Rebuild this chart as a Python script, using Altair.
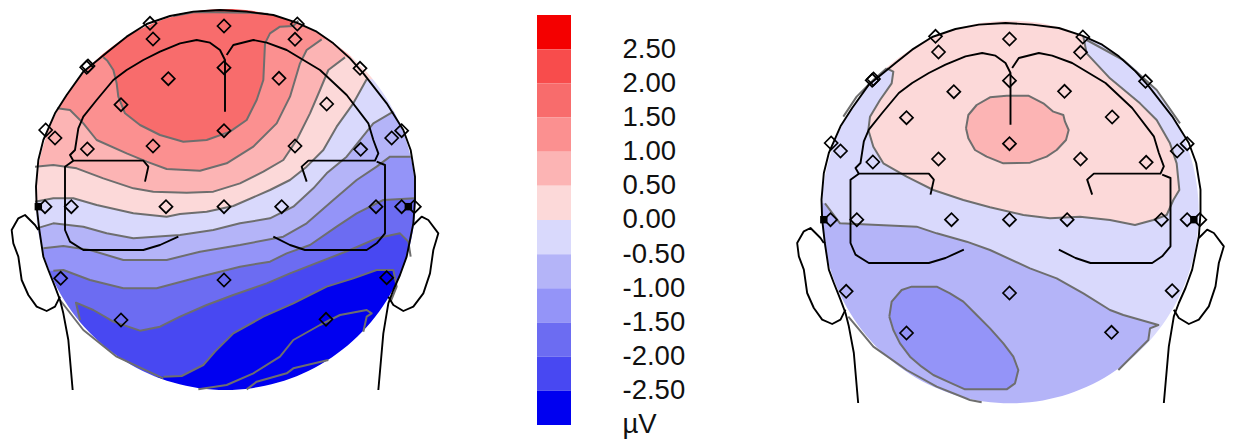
import math
import altair as alt

# ---------- colour scale ----------
LEVEL_LOW = [2.5, 2.0, 1.5, 1.0, 0.5, 0.0, -0.5, -1.0, -1.5, -2.0, -2.5, -3.0]
LEVEL_COLORS = ["#f40000", "#f84c4c", "#f86c6c", "#fb9090", "#fcb4b4", "#fcd9d9",
                "#d9d9fc", "#b4b4f8", "#9494f8", "#6c6cf2", "#4848f2", "#0000f0"]
TICKS = [2.5, 2.0, 1.5, 1.0, 0.5, 0.0, -0.5, -1.0, -1.5, -2.0, -2.5, -3.0]

# ---------- left map: contours, read at 3x from the picture ----------
L_SLIVER = [(585, 20), (590, 36), (750, 38), (805, 42), (815, 20)]
L_C15 = [(310,172),(322,182),(340,210),(350,250),(355,290),(375,340),(420,375),(480,405),(550,425),(620,420),(690,395),(740,360),(770,300),(790,240),(795,130),(810,100),(840,80),(880,78),(895,62)]
L_C10 = [(172,325),(210,330),(250,370),(290,420),(380,460),(440,485),(500,507),(600,512),(680,490),(760,440),(830,370),(870,290),(900,190),(920,150),(965,118)]
L_C05 = [(105,500),(160,495),(230,505),(310,535),(400,565),(460,575),(560,578),(640,575),(720,550),(790,515),(850,480),(890,420),(930,340),(960,270),(985,210),(1035,172)]
L_C00 = [(105,605),(160,595),(220,595),(290,615),(400,640),(500,650),(540,642),(620,635),(700,618),(810,570),(870,540),(920,500),(970,450),(1010,380),(1060,310),(1100,238)]
L_M05 = [(110,685),(160,670),(250,680),(320,700),(400,715),(540,705),(640,690),(720,670),(810,655),(880,620),(940,565),(980,520),(1040,470),(1120,370),(1180,335)]
L_M10 = [(130,745),(190,738),(270,750),(370,780),(500,780),(600,755),(720,735),(850,710),(920,670),(1000,600),(1070,540),(1130,500),(1170,470),(1232,470)]
L_M15 = [(160,812),(190,810),(270,840),(370,865),(470,865),(600,830),(720,800),(810,785),(860,760),(930,735),(1010,680),(1070,640),(1150,600),(1245,595)]
L_M20 = [(240,960),(228,908),(280,930),(340,965),(420,992),(480,980),(540,950),(620,915),(700,885),(800,850),(870,820),(1050,750),(1130,715),(1200,700),(1225,725),(1232,770)]
L_M25 = [(490,1130),(545,1128),(610,1095),(645,1055),(700,1000),(790,950),(880,910),(980,860),(1060,835),(1130,810),(1180,810),(1190,860),(1172,905)]
L_M30A = [(595,1168),(680,1155),(760,1120),(840,1070),(880,1020),(960,975),(1020,945),(1100,930),(1115,940),(1100,950),(1090,995)]
L_M30B = [(740,1168),(770,1145),(860,1120),(880,1105),(985,1080)]
L_RIM = [(180,900),(250,990),(350,1070),(490,1135)]
L_TOP = [(520,48),(585,36),(750,38),(805,42)]

# ---------- right map: contours, read at 3x (x measured from 790) ----------
R_C00 = [(290,205),(310,215),(305,250),(270,300),(240,350),(235,390),(250,440),(280,490),(350,530),(430,570),(520,600),(600,622),(700,645),(780,655),(870,650),(960,660),(1035,675),(1090,660),(1130,645),(1150,600),(1168,570),(1160,490),(1140,430),(1100,360),(1050,310),(960,235),(890,160),(880,110)]
R_C00_OUT = [(1000,60),(660,0),(320,60),(250,150)]
R_C05 = [(528,385),(535,345),(560,315),(600,292),(650,287),(715,287),(760,310),(790,335),(820,345),(825,365),(836,390),(828,420),(800,450),(770,470),(720,488),(640,490),(590,470),(555,450),(535,415),(528,385)]
R_M05 = [(105,610),(150,670),(380,680),(440,700),(530,725),(600,750),(720,805),(800,835),(880,880),(960,930),(1000,945),(1105,975),(1080,985),(1075,1020),(1030,1065),(985,1110)]
R_M05_OUT = [(1000,1260),(600,1300),(200,1100),(60,800),(60,610)]
R_M10 = [(298,950),(305,905),(335,870),(365,860),(440,860),(480,880),(520,905),(560,945),(600,985),(640,1030),(670,1070),(685,1110),(675,1150),(650,1168),(525,1168),(480,1148),(430,1125),(395,1100),(360,1070),(330,1030),(310,990),(298,950)]
R_RIM_A = [(175,950),(250,1040),(350,1110),(440,1160),(540,1200),(575,1207)]
R_RIM_B = [(160,350),(200,290),(250,240),(290,205)]
R_RIM_C = [(890,120),(1000,180),(1100,270),(1170,370)]

# ---------- head drawing, read at 3x on the left map ----------
OUTLINE = [(218,1170),(205,1020),(190,940),(180,900),(165,860),(145,810),(130,770),(118,690),(110,620),(108,560),(115,480),(130,420),(165,340),(200,285),(250,215),(330,150),(380,110),(440,72),(510,48),(580,35),(660,30),(740,35),(820,45),(890,68),(950,95),(1000,130),(1050,175),(1090,220),(1160,310),(1210,390),(1232,450),(1245,530),(1245,600),(1240,670),(1220,770),(1200,825),(1180,870),(1165,910),(1150,1000),(1135,1170)]
EAR_L = [(115,690),(105,675),(75,645),(55,655),(35,690),(40,730),(55,770),(65,840),(85,885),(110,920),(140,933),(165,920),(180,890)]
EAR_R = [(1240,675),(1265,650),(1285,660),(1315,700),(1300,750),(1290,820),(1270,880),(1240,920),(1210,933),(1180,915),(1165,890)]
BRAIN_MID = [(675,335),(675,180),(660,150),(630,128),(590,120),(540,130),(480,155),(430,180),(380,210),(340,240),(290,300),(250,350),(235,385),(225,450),(210,465),(220,482),(430,482),(445,500),(435,545)]
BRAIN_R = [(680,165),(700,135),(760,120),(800,128),(860,150),(960,210),(1040,285),(1105,370),(1120,420),(1135,460),(1125,482),(925,482),(905,500),(920,545)]
LOBE_L = [(220,482),(195,500),(195,690),(210,725),(250,750),(430,750),(480,735),(535,710)]
LOBE_R = [(1130,485),(1155,495),(1155,700),(1130,730),(1100,750),(915,750),(870,735),(820,710)]
SENS_X = [672,459,885,450,892,260,264,1080,672,505,837,363,980,672,459,885,262,1082,137,165,1175,1205,135,214,498,672,845,1128,1205,1243,182,672,1160,363,978]
SENS_Y = [78,117,118,70,72,202,198,205,203,236,235,314,312,392,438,438,447,448,390,414,414,392,620,620,620,620,620,620,620,620,835,840,833,960,958]
BLOCK_X = [115, 1225]
BLOCK_Y = [620, 620]

LEFT_DX, LEFT_DY = 0.0, 0.0
RIGHT_DX, RIGHT_DY = 785.5, 13.0
TOP, BOTTOM = 8, 434
H = BOTTOM - TOP
# the right panel starts 563px further along the page than the left one
RIGHT_PANEL_SHIFT = 563


def px(pts):
    return [[x / 3, y / 3] for x, y in pts]


def rpx(pts):
    return [[790 - RIGHT_PANEL_SHIFT + x / 3, y / 3] for x, y in pts]


def poly(ring, fill):
    r = list(ring)
    if r[0] != r[-1]:
        r = r + [r[0]]
    return {"type": "Feature", "geometry": {"type": "Polygon", "coordinates": [r]},
            "properties": {}, "fill": fill}


def line(coords):
    return {"type": "Feature", "geometry": {"type": "LineString", "coordinates": coords}, "properties": {}}


def below(contour, fill, xl=10, xr=445, yb=425):
    c = px(contour)
    return poly(c + [[xr, c[-1][1]], [xr, yb], [xl, yb], [xl, c[0][1]]], fill)


def mask(cx, cy, rx, ry, x0, x1):
    outer = [[x0, 0], [x1, 0], [x1, 440], [x0, 440], [x0, 0]]
    n = 180
    inner = [[cx + rx * math.cos(-2 * math.pi * i / n), cy + ry * math.sin(-2 * math.pi * i / n)] for i in range(n + 1)]
    return {"type": "Feature", "geometry": {"type": "Polygon", "coordinates": [outer, inner]}, "properties": {}}


def head_layers(dx, dy):
    s = lambda p: [[x / 3 + dx, y / 3 + dy] for x, y in p]
    return [line(s(k)) for k in (OUTLINE, EAR_L, EAR_R, BRAIN_MID, BRAIN_R, LOBE_L, LOBE_R)]


def geo(values):
    return alt.Data(values=values)


def panel(width, fills, contours, msk, dx, dy):
    proj = dict(type="identity", scale=1, translate=[-8, -TOP])
    sens = [{"lon": x / 3 + dx, "lat": y / 3 + dy} for x, y in zip(SENS_X, SENS_Y)]
    blocks = [{"lon": x / 3 + dx, "lat": y / 3 + dy} for x, y in zip(BLOCK_X, BLOCK_Y)]
    a = alt.Chart(geo(fills)).mark_geoshape(strokeWidth=0).encode(
        fill=alt.Fill("fill:N", scale=None)).project(**proj)
    b = alt.Chart(geo([msk])).mark_geoshape(fill="white", strokeWidth=0).project(**proj)
    c = alt.Chart(geo(contours)).mark_geoshape(filled=False, stroke="#6e6e6e", strokeWidth=2,
                                               strokeJoin="round").project(**proj)
    d = alt.Chart(geo(head_layers(dx, dy))).mark_geoshape(filled=False, stroke="black", strokeWidth=1.9,
                                                          strokeJoin="round").project(**proj)
    e = alt.Chart(alt.Data(values=sens)).mark_point(shape="diamond", size=170, filled=False, color="black",
                                                    strokeWidth=1.7, opacity=1).encode(
        longitude="lon:Q", latitude="lat:Q").project(**proj)
    f = alt.Chart(alt.Data(values=blocks)).mark_point(shape="square", size=55, filled=True, color="black",
                                                      opacity=1).encode(
        longitude="lon:Q", latitude="lat:Q").project(**proj)
    return alt.layer(a, b, c, d, e, f).properties(width=width, height=H)


# left map
C = LEVEL_COLORS
left_fills = [poly([[10, 0], [445, 0], [445, 425], [10, 425]], C[2]), poly(px(L_SLIVER), C[1])]
for cont, col in zip([L_C15, L_C10, L_C05, L_C00, L_M05, L_M10, L_M15, L_M20, L_M25],
                     [C[3], C[4], C[5], C[6], C[7], C[8], C[9], C[10], C[11]]):
    left_fills.append(below(cont, col))
left_lines = [line(px(k)) for k in (L_C15, L_C10, L_C05, L_C00, L_M05, L_M10, L_M15, L_M20, L_M25,
                                    L_M30A, L_M30B, L_RIM, L_TOP)]
left = panel(529, left_fills, left_lines, mask(225.5, 199.5, 190, 190.5, 8, 500), LEFT_DX, LEFT_DY)

# right map
S = RIGHT_PANEL_SHIFT
right_fills = [poly([[800 - S, 0], [1225 - S, 0], [1225 - S, 430], [800 - S, 430]], C[6]),
               poly(rpx(R_C00 + R_C00_OUT), C[5]),
               poly(rpx(R_M05 + R_M05_OUT), C[7]),
               poly(rpx(R_C05), C[4]),
               poly(rpx(R_M10), C[8])]
right_lines = [line(rpx(k)) for k in (R_C00, R_C05, R_M05, R_M10, R_RIM_A, R_RIM_B, R_RIM_C)]
right = panel(654, right_fills, right_lines, mask(1010.2 - S, 212, 188.5, 191.3, 720 - S, 1225 - S),
              RIGHT_DX - S, RIGHT_DY)

# colour bar
bar_rows = [{"lo": lo, "hi": lo + 0.5, "c": c} for lo, c in zip(LEVEL_LOW, LEVEL_COLORS)]
Y_DOMAIN = [-3.132, 3.1024]
bar = alt.Chart(alt.Data(values=bar_rows)).mark_rect().encode(
    y=alt.Y("lo:Q", scale=alt.Scale(domain=Y_DOMAIN, nice=False, zero=False),
            axis=alt.Axis(orient="right", values=TICKS, title=None, domain=False, ticks=False, grid=False,
                          labelPadding=51, labelFontSize=27.5, labelFont="Liberation Sans", labelColor="#111111",
                          labelAlign="left", labelOverlap=False, labelBound=False, labelFlush=False,
                          labelExpr="datum.value == -3 ? 'µV' : (datum.value < 0 ? '-' : '') + format(abs(datum.value), '.2f')")),
    y2="hi:Q",
    fill=alt.Fill("c:N", scale=None),
).properties(width=34, height=H)

chart = alt.hconcat(left, bar, right, spacing=0, bounds="flush").properties(
    padding=0, background="white"
).configure_view(stroke=None)

chart.save("out.html", embed_options={"renderer": "svg", "actions": False})
